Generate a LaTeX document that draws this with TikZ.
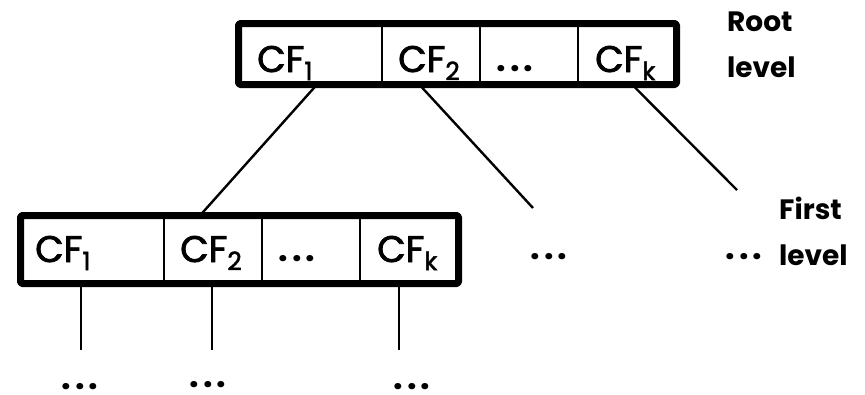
\documentclass[tikz,border=0pt]{standalone}
\usepackage{fontspec}
\setmainfont{Poppins}
\newfontfamily\cffont{Poppins}[FakeBold=2]
\usetikzlibrary{calc}
% lowered, enlarged subscript used in the cell labels
\newcommand\cfsub[1]{\raisebox{-8pt}{\fontsize{25}{25}\selectfont #1}}
% widely spaced ellipsis
\newcommand\edots{{\bfseries .\kern4pt.\kern4pt.}}
\begin{document}
\begin{tikzpicture}[x=1pt,y=-1pt,
  frame/.style={draw, line width=7pt, line join=round, rounded corners=1.5pt,
                inner sep=0pt, outer sep=0pt, minimum width=438pt, anchor=north west},
  divider/.style={line width=1.8pt},
  link/.style={line width=2.4pt},
  cf/.style={anchor=base west, inner sep=0pt, font=\cffont\fontsize{37}{40}\selectfont},
  dots/.style={anchor=base, inner sep=0pt, font=\fontsize{34}{40}\selectfont},
  lbl/.style={anchor=west, inner sep=0pt, align=left,
              font=\fontsize{28}{46}\selectfont\bfseries}]
\useasboundingbox (0,0) rectangle (865,394);

% ---- root level node ----
\node[frame, minimum height=61pt] (root) at (238.5,23.5) {};
\foreach \x/\n in {143.5/a,241.5/b,339.5/c}{
  \draw[divider] ($(root.north west)+(\x,0)$) coordinate (rt\n) -- ($(root.south west)+(\x,0)$) coordinate (rb\n);
}
\node[cf] (r1) at (257,72) {CF\cfsub{1}};
\node[cf] (r2) at (398,72) {CF\cfsub{2}};
\node[dots] (r3) at (515,71) {\edots};
\node[cf] (r4) at (595,72) {CF\cfsub{k}};

% ---- first level node ----
\node[frame, minimum height=68pt] (leaf) at (20.5,215.5) {};
\foreach \x/\n in {143.5/a,241.5/b,339.5/c}{
  \draw[divider] ($(leaf.north west)+(\x,0)$) coordinate (lt\n) -- ($(leaf.south west)+(\x,0)$) coordinate (lb\n);
}
\node[cf] (l1) at (35,262) {CF\cfsub{1}};
\node[cf] (l2) at (180,262) {CF\cfsub{2}};
\node[dots] (l3) at (297,261) {\edots};
\node[cf] (l4) at (377,262) {CF\cfsub{k}};

% ---- connectors between levels ----
\coordinate (p1) at ($(root.south west)+(78.5,0)$);
\coordinate (p2) at ($(root.south west)+(183.5,3)$);
\coordinate (p3) at ($(root.south west)+(396.5,3)$);
\coordinate (q1) at ($(leaf.north west)+(179.5,0)$);
\coordinate (e2) at (533,208);
\coordinate (e3) at (737,190);
\draw[link] (p1) -- (q1);
\draw[link] (p2) -- (e2);
\draw[link] (p3) -- (e3);

\node[dots] (m1) at (549,259) {\edots};
\node[dots] (m2) at (744,259) {\edots};

% ---- children of the first level node ----
\foreach \x/\n in {60.5/1,191.5/2,378.5/3}{
  \coordinate (c\n) at ($(leaf.south west)+(\x,0)$);
  \coordinate (d\n) at ($(leaf.south west)+(\x,66)$);
  \draw[divider, line width=2.2pt] (c\n) -- (d\n);
}
\node[dots] (b1) at (80,389) {\edots};
\node[dots] (b2) at (208,387) {\edots};
\node[dots] (b3) at (412,389) {\edots};

% ---- level captions ----
\node[lbl] (rootlbl) at (727,45) {Root\\level};
\node[lbl] (firstlbl) at (779,231) {First\\level};
\end{tikzpicture}
\end{document}
